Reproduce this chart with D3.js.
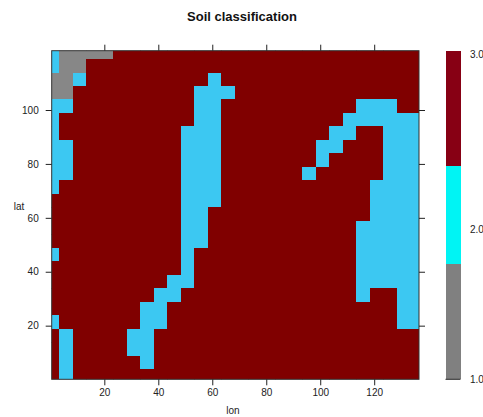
<!DOCTYPE html>
<html><head><meta charset="utf-8">
<script src="https://cdn.jsdelivr.net/npm/d3@7"></script>
<style>
html,body{margin:0;padding:0;background:#fff;}
svg{display:block;font-family:"Liberation Sans",Arial,sans-serif;}
</style></head>
<body>
<script>
// ---- data ----
const title = "Soil classification";
const lonCenters = d3.range(28).map(i => 0.8 + 5 * i);   // cell centres (lon)
const latCenters = d3.range(25).map(j => 121.4 - 5 * j); // cell centres (lat), top row first
const cellSize = 5;
// class values per row, top to bottom, one character per lon cell (1,2,3)
const soilRows = [
  "2111133333333333333333333333",
  "2113333333333333333333333333",
  "1123333333332333333333333333",
  "1133333333322233333333333333",
  "2233333333322333333333322233",
  "2333333333322333333333222222",
  "2333333333222333333332233222",
  "2233333333222333333322333222",
  "2233333333222333333323333222",
  "2233333333222333333233333222",
  "2333333333222333333333332222",
  "3333333333222333333333332222",
  "3333333333223333333333332222",
  "3333333333223333333333322222",
  "3333333333223333333333322222",
  "2333333333233333333333322222",
  "3333333333233333333333322222",
  "3333333332233333333333322222",
  "3333333322333333333333323322",
  "3333333223333333333333333322",
  "2333333223333333333333333322",
  "3233332233333333333333333333",
  "3233332233333333333333333333",
  "3233333233333333333333333333",
  "3233333333333333333333333333"
];
const xTicks = [20, 40, 60, 80, 100, 120];
const yTicks = [20, 40, 60, 80, 100];
const keyLabels = ["1.0", "2.0", "3.0"];
const keyBreaks = [1.0, 1.7, 2.3, 3.0];
const classColors = {1: "#878787", 2: "#3cc8f2", 3: "#800000"};
const keyColors = ["#808080", "#00f4f4", "#870014"];

// ---- layout ----
const W = 483, H = 417;
const svg = d3.select("body").append("svg").attr("width", W).attr("height", H);

const x = d3.scaleLinear().domain([0.5, 136.6]).range([51.7, 419]);
const y = d3.scaleLinear().domain([0.1, 122]).range([379.3, 50.7]);

svg.append("defs").append("clipPath").attr("id", "clip")
  .append("rect").attr("x", x(0.5)).attr("y", y(122))
  .attr("width", x(136.6) - x(0.5)).attr("height", y(0.1) - y(122));

const cells = [];
soilRows.forEach((row, j) => {
  row.split("").forEach((ch, i) => {
    cells.push({lon: lonCenters[i], lat: latCenters[j], v: +ch});
  });
});

svg.append("g").attr("clip-path", "url(#clip)")
  .selectAll("rect").data(cells).join("rect")
  .attr("x", d => x(d.lon - cellSize / 2))
  .attr("y", d => y(d.lat + cellSize / 2))
  .attr("width", d => x(d.lon + cellSize / 2) - x(d.lon - cellSize / 2) + 0.4)
  .attr("height", d => y(d.lat - cellSize / 2) - y(d.lat + cellSize / 2) + 0.4)
  .attr("fill", d => classColors[d.v])
  .attr("shape-rendering", "crispEdges");

// frame
svg.append("rect").attr("x", x(0.5)).attr("y", y(122))
  .attr("width", x(136.6) - x(0.5)).attr("height", y(0.1) - y(122))
  .attr("fill", "none").attr("stroke", "#333").attr("stroke-width", 1);

function styleAxis(g, showLabels) {
  g.select(".domain").remove();
  g.selectAll(".tick line").attr("stroke", "#222");
  g.selectAll(".tick text").attr("fill", "#222").style("font-size", "10px")
    .style("display", showLabels ? null : "none");
}
svg.append("g").attr("transform", `translate(0,${y(0.1)})`)
  .call(d3.axisBottom(x).tickValues(xTicks).tickSize(6).tickPadding(4))
  .call(g => styleAxis(g, true));
svg.append("g").attr("transform", `translate(0,${y(122)})`)
  .call(d3.axisTop(x).tickValues(xTicks).tickSize(6))
  .call(g => styleAxis(g, false));
svg.append("g").attr("transform", `translate(${x(0.5)},0)`)
  .call(d3.axisLeft(y).tickValues(yTicks).tickSize(6).tickPadding(7))
  .call(g => styleAxis(g, true));
svg.append("g").attr("transform", `translate(${x(136.6)},0)`)
  .call(d3.axisRight(y).tickValues(yTicks).tickSize(6))
  .call(g => styleAxis(g, false));

// axis titles
svg.append("text").attr("x", 233).attr("y", 414).attr("text-anchor", "middle")
  .style("font-size", "10px").attr("fill", "#222").text("lon");
svg.append("text").attr("x", 19).attr("y", 210).attr("text-anchor", "middle")
  .style("font-size", "10px").attr("fill", "#222").text("lat");

// title
svg.append("text").attr("x", 242).attr("y", 21).attr("text-anchor", "middle")
  .style("font-size", "13px").style("font-weight", "bold").attr("fill", "#111").text(title);

// colour key
const k = d3.scaleLinear().domain([1, 3]).range([379.3, 50.7]);
svg.append("g").selectAll("rect").data(d3.range(3)).join("rect")
  .attr("x", 445.5).attr("width", 15)
  .attr("y", i => k(keyBreaks[i + 1]))
  .attr("height", i => k(keyBreaks[i]) - k(keyBreaks[i + 1]))
  .attr("fill", i => keyColors[i]).attr("shape-rendering", "crispEdges");
svg.append("line").attr("x1", 445.5).attr("x2", 460.5).attr("y1", 379.3).attr("y2", 379.3)
  .attr("stroke", "#222");
const keyLabelY = [379.5, 229, 54];
svg.append("g").selectAll("text").data(keyLabels).join("text")
  .attr("x", 470).attr("y", (d, i) => keyLabelY[i]).attr("dy", "0.35em")
  .style("font-size", "10px").attr("fill", "#222").text(d => d);
</script>
</body></html>
